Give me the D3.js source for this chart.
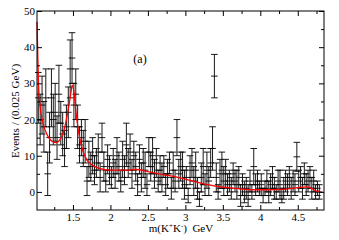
<!DOCTYPE html>
<html>
<head>
<meta charset="utf-8">
<script src="https://cdn.jsdelivr.net/npm/d3@7"></script>
<style>
  body { margin: 0; background: #fff; }
  svg { display: block; }
</style>
</head>
<body>
<div id="chart"></div>
<script>
// bin centres (GeV), 0.025 GeV bins
const mass = [
  1.0375, 1.0625, 1.0875, 1.1125, 1.1375, 1.1625, 1.1875, 1.2125, 1.2375, 1.2625,
  1.2875, 1.3125, 1.3375, 1.3625, 1.3875, 1.4125, 1.4375, 1.4625, 1.4875, 1.5125,
  1.5375, 1.5625, 1.5875, 1.6125, 1.6375, 1.6625, 1.6875, 1.7125, 1.7375, 1.7625,
  1.7875, 1.8125, 1.8375, 1.8625, 1.8875, 1.9125, 1.9375, 1.9625, 1.9875, 2.0125,
  2.0375, 2.0625, 2.0875, 2.1125, 2.1375, 2.1625, 2.1875, 2.2125, 2.2375, 2.2625,
  2.2875, 2.3125, 2.3375, 2.3625, 2.3875, 2.4125, 2.4375, 2.4625, 2.4875, 2.5125,
  2.5375, 2.5625, 2.5875, 2.6125, 2.6375, 2.6625, 2.6875, 2.7125, 2.7375, 2.7625,
  2.7875, 2.8125, 2.8375, 2.8625, 2.8875, 2.9125, 2.9375, 2.9625, 2.9875, 3.0125,
  3.0375, 3.0625, 3.0875, 3.1125, 3.1375, 3.1625, 3.1875, 3.2125, 3.2375, 3.2625,
  3.2875, 3.3125, 3.3375, 3.3625, 3.3875, 3.4125, 3.4375, 3.4625, 3.4875, 3.5125,
  3.5375, 3.5625, 3.5875, 3.6125, 3.6375, 3.6625, 3.6875, 3.7125, 3.7375, 3.7625,
  3.7875, 3.8125, 3.8375, 3.8625, 3.8875, 3.9125, 3.9375, 3.9625, 3.9875, 4.0125,
  4.0375, 4.0625, 4.0875, 4.1125, 4.1375, 4.1625, 4.1875, 4.2125, 4.2375, 4.2625,
  4.2875, 4.3125, 4.3375, 4.3625, 4.3875, 4.4125, 4.4375, 4.4625, 4.4875, 4.5125,
  4.5375, 4.5625, 4.5875, 4.6125, 4.6375, 4.6625, 4.6875, 4.7125, 4.7375, 4.7625,
  4.7875
];
const events = [
  26, 20, 24, 18, 26, 5, 15, 26, 20, 22,
  15, 27, 19, 16, 12, 18, 22, 34, 37, 24,
  27, 18, 13, 15, 12, 14, 3, 9, 7, 10,
  6, 8, 11, 4, 15, 7, 3, 9, 6, 4,
  8, 5, 10, 7, 3, 9, 6, 13, 8, 11,
  5, 10, 7, 2, 9, 4, 8, 6, 2, 11,
  7, 10, 5, 8, 3, 6, 4, 7, 2, 5,
  8, 1, 6, 3, 15, 5, 7, 6, 2, 4,
  -1, 6, 8, 3, 6, 1, -2, 4, 7, 2,
  6, 3, 8, 12, 32, 4, 0, 5, 6, 3,
  5, 2, 3, 1, 5, 3, 2, 4, -1, 2,
  0, 1, -1, 3, 0, 7, 2, 3, 1, 2,
  -1, 1, 3, 0, 2, 4, 1, 0, 3, 2,
  -1, 1, 3, 2, 4, 1, 3, 2, 9.7, 3,
  4, 1, 5, 2, 3, 4, 1, 3, 0, 1,
  0
];
const errors = [
  7, 7, 8, 7, 8, 6, 7, 8, 7, 8,
  6, 8, 6, 6, 5, 6, 7, 8, 7, 6,
  7, 6, 5, 5, 5, 6, 4, 5, 4, 5,
  4, 4, 5, 4, 4, 4, 3, 4, 4, 3,
  4, 4, 5, 4, 3, 5, 4, 6, 4, 5,
  4, 4, 4, 3, 4, 4, 4, 5, 3, 4,
  4, 5, 4, 4, 3, 4, 4, 3, 3, 4,
  3, 3, 5, 3, 5, 4, 4, 5, 4, 3,
  2, 4, 4, 4, 5, 3, 2, 4, 5, 3,
  5, 4, 4, 6, 6, 4, 2, 4, 5, 4,
  4, 3, 3, 3, 3, 3, 4, 3, 3, 3,
  3, 3, 3, 3, 2, 5, 3, 3, 2, 3,
  2, 2, 3, 3, 3, 3, 3, 2, 3, 4,
  2, 3, 3, 3, 3, 3, 3, 3, 4, 3,
  3, 3, 3, 3, 3, 3, 3, 3, 2, 2,
  2
];

// fitted curve
const fitMass = [1.02, 1.03, 1.04, 1.06, 1.10, 1.15, 1.22, 1.28, 1.33, 1.38, 1.43, 1.47, 1.49,
  1.51, 1.54, 1.58, 1.63, 1.68, 1.75, 1.85, 2.0, 2.2, 2.35, 2.5, 2.7, 2.9, 3.1, 3.3, 3.5,
  3.7, 3.9, 4.1, 4.3, 4.5, 4.62, 4.7, 4.75, 4.8];
const fitEvents = [47, 38, 30, 24, 19, 16, 14, 13.6, 14.5, 17, 22, 27, 29.5,
  28, 22, 16, 11.5, 9, 7.5, 6.5, 6.0, 6.0, 6.2, 5.6, 4.8, 4.0, 3.0, 2.0, 1.3,
  0.9, 0.6, 0.6, 0.7, 1.2, 1.4, 0.8, 0.2, 0.3];

const xMajor = [1.5, 2, 2.5, 3, 3.5, 4, 4.5];
const xMinor = [1.25, 1.75, 2.25, 2.75, 3.25, 3.75, 4.25, 4.75];
const yMajor = [0, 10, 20, 30, 40, 50];
const yMinor = [5, 15, 25, 35, 45];

const W = 339, H = 240;
const plotL = 37, plotR = 324, plotT = 11, plotB = 210;

const x = d3.scaleLinear().domain([1.02, 4.85]).range([plotL, plotR]);
const y = d3.scaleLinear().domain([-5, 50]).range([plotB, plotT]);

const svg = d3.select('#chart').append('svg')
  .attr('width', W)
  .attr('height', H);

const font = 'Liberation Serif, Times New Roman, serif';

// error bars
const capW = 3.3;
const pts = mass.map((m, i) => ({ m, v: events[i], e: errors[i] }));
const bars = svg.append('g')
  .attr('stroke', '#000')
  .attr('stroke-width', 0.9)
  .attr('fill', 'none');
bars.selectAll('path')
  .data(pts)
  .enter()
  .append('path')
  .attr('d', (d) => {
    const cx = x(d.m), y0 = y(d.v - d.e), y1 = y(d.v + d.e), yc = y(d.v);
    return `M${cx},${y0}V${y1}` +
      `M${cx - capW},${y1}H${cx + capW}` +
      `M${cx - capW},${yc}H${cx + capW}` +
      `M${cx - capW},${y0}H${cx + capW}`;
  });

// fit curve
const line = d3.line()
  .curve(d3.curveMonotoneX)
  .x((d) => x(d[0]))
  .y((d) => y(d[1]));
svg.append('path')
  .attr('d', line(fitMass.map((m, i) => [m, fitEvents[i]])))
  .attr('fill', 'none')
  .attr('stroke', '#f00')
  .attr('stroke-width', 1.3);

// axes, ticks pointing inward on all sides
function styleAxis(g) {
  g.select('.domain').remove();
  g.selectAll('.tick line').attr('stroke', '#000');
  g.selectAll('text').attr('font-family', font).attr('font-size', 11).attr('fill', '#000');
}

svg.append('g')
  .attr('transform', `translate(0,${plotB})`)
  .call(d3.axisBottom(x).tickValues(xMajor).tickSize(-5).tickPadding(3).tickFormat(d3.format('')))
  .call(styleAxis);
svg.append('g')
  .attr('transform', `translate(0,${plotB})`)
  .call(d3.axisBottom(x).tickValues(xMinor).tickSize(-3).tickFormat(''))
  .call(styleAxis);
svg.append('g')
  .attr('transform', `translate(0,${plotT})`)
  .call(d3.axisTop(x).tickValues(xMajor).tickSize(-5).tickFormat(''))
  .call(styleAxis);
svg.append('g')
  .attr('transform', `translate(0,${plotT})`)
  .call(d3.axisTop(x).tickValues(xMinor).tickSize(-3).tickFormat(''))
  .call(styleAxis);

svg.append('g')
  .attr('transform', `translate(${plotL},0)`)
  .call(d3.axisLeft(y).tickValues(yMajor).tickSize(-5).tickPadding(2))
  .call(styleAxis);
svg.append('g')
  .attr('transform', `translate(${plotL},0)`)
  .call(d3.axisLeft(y).tickValues(yMinor).tickSize(-3).tickFormat(''))
  .call(styleAxis);
svg.append('g')
  .attr('transform', `translate(${plotR},0)`)
  .call(d3.axisRight(y).tickValues(yMajor).tickSize(-5).tickFormat(''))
  .call(styleAxis);
svg.append('g')
  .attr('transform', `translate(${plotR},0)`)
  .call(d3.axisRight(y).tickValues(yMinor).tickSize(-3).tickFormat(''))
  .call(styleAxis);

// frame
svg.append('rect')
  .attr('x', plotL).attr('y', plotT)
  .attr('width', plotR - plotL).attr('height', plotB - plotT)
  .attr('fill', 'none')
  .attr('stroke', '#000')
  .attr('stroke-width', 1);

// titles
const xt = svg.append('text')
  .attr('x', 181).attr('y', 232)
  .attr('text-anchor', 'middle')
  .attr('font-family', font).attr('font-size', 11);
xt.append('tspan').text('m(K');
xt.append('tspan').attr('dy', -4).attr('font-size', 7).text('+');
xt.append('tspan').attr('dy', 4).text('K');
xt.append('tspan').attr('dy', -4).attr('font-size', 7).text('-');
xt.append('tspan').attr('dy', 4).text(')\u00a0\u00a0GeV');

svg.append('text')
  .attr('transform', 'translate(19,111) rotate(-90)')
  .attr('text-anchor', 'middle')
  .attr('font-family', font).attr('font-size', 11)
  .text('Events / (0.025 GeV)');

svg.append('text')
  .attr('x', 140).attr('y', 63)
  .attr('text-anchor', 'middle')
  .attr('font-family', font).attr('font-size', 12)
  .text('(a)');
</script>
</body>
</html>
